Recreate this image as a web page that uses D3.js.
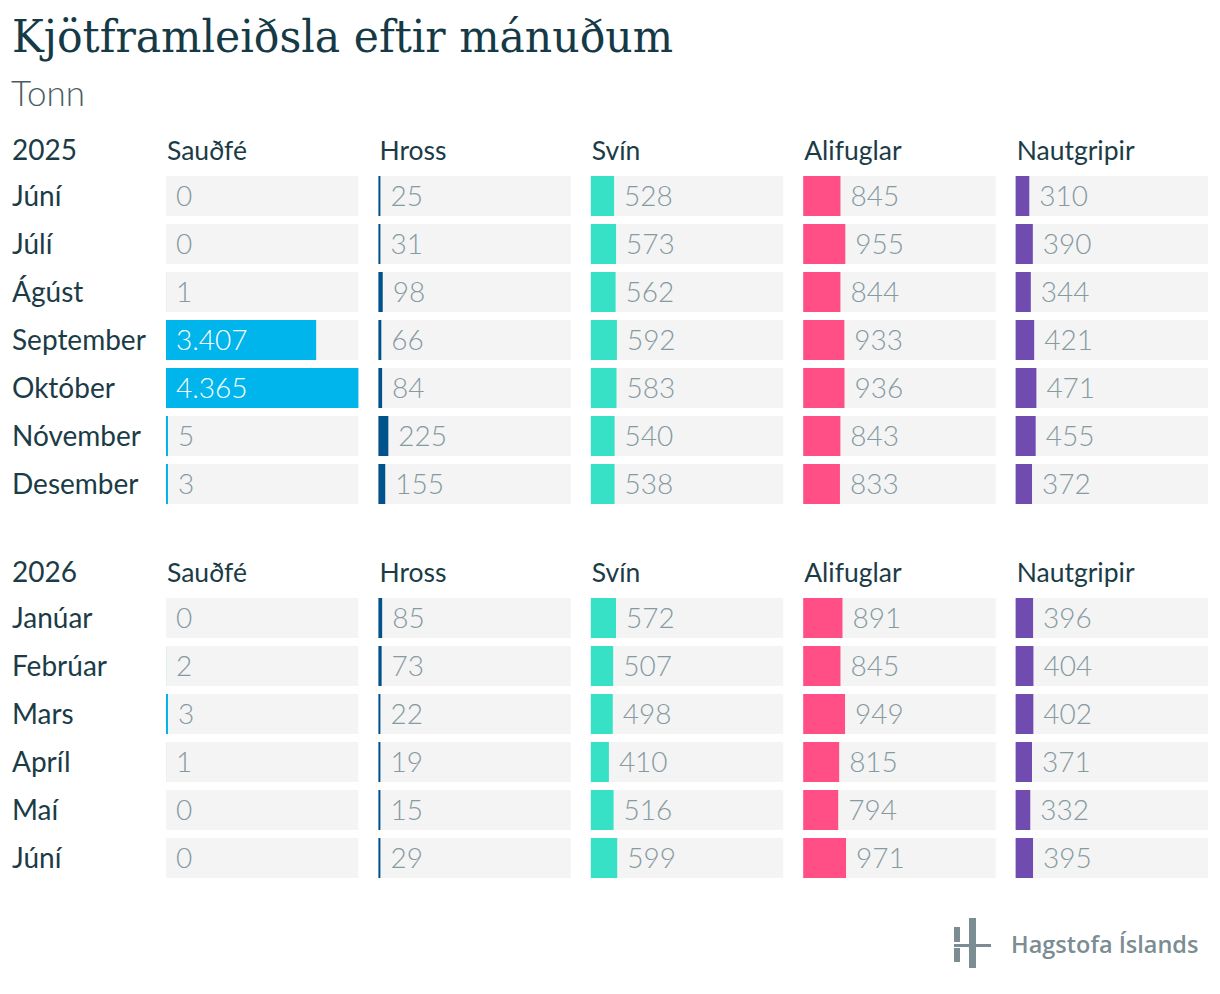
<!DOCTYPE html>
<html>
<head>
<meta charset="utf-8">
<script src="https://cdn.jsdelivr.net/npm/d3@7"></script>
<style>
  body { margin: 0; background: #fff; }
  svg text { font-family: Lato, "Noto Sans", sans-serif; }
</style>
</head>
<body>
<div id="chart"></div>
<script>
const categories = ["Sauðfé", "Hross", "Svín", "Alifuglar", "Nautgripir"];
const colors = ["#00b4ec", "#00528a", "#37e1c5", "#ff4f86", "#704bb0"];

const months2025 = ["Júní", "Júlí", "Ágúst", "September", "Október", "Nóvember", "Desember"];
const values2025 = [
  [0, 25, 528, 845, 310],
  [0, 31, 573, 955, 390],
  [1, 98, 562, 844, 344],
  [3407, 66, 592, 933, 421],
  [4365, 84, 583, 936, 471],
  [5, 225, 540, 843, 455],
  [3, 155, 538, 833, 372]
];

const months2026 = ["Janúar", "Febrúar", "Mars", "Apríl", "Maí", "Júní"];
const values2026 = [
  [0, 85, 572, 891, 396],
  [2, 73, 507, 845, 404],
  [3, 22, 498, 949, 402],
  [1, 19, 410, 815, 371],
  [0, 15, 516, 794, 332],
  [0, 29, 599, 971, 395]
];

const width = 1220, height = 994;
const rowStep = 48, rowGap = 8;
const isLocale = d3.formatLocale({ decimal: ",", thousands: ".", grouping: [3], currency: ["", " kr."] });
const fmt = isLocale.format(",d");

const svg = d3.select("#chart").append("svg")
  .attr("width", width)
  .attr("height", height);

// titles
svg.append("text")
  .attr("x", 12).attr("y", 52)
  .attr("textLength", 661).attr("lengthAdjust", "spacingAndGlyphs")
  .style("font-family", "'DejaVu Serif', serif")
  .style("font-size", "44px")
  .attr("fill", "#153a46")
  .text("Kjötframleiðsla eftir mánuðum");

svg.append("text")
  .attr("x", 11).attr("y", 106)
  .style("font-size", "35px").style("font-weight", 300)
  .attr("fill", "#4b5d64")
  .text("Tonn");

// columns
const x = d3.scaleBand()
  .domain(categories)
  .range([166, 1208])
  .paddingInner(20 / 212);

const allValues = values2025.concat(values2026).flat();
const barX = d3.scaleLinear()
  .domain([0, d3.max(allValues)])
  .range([0, x.bandwidth()]);

const color = d3.scaleOrdinal().domain(categories).range(colors);

const blocks = [
  { year: "2025", months: months2025, values: values2025, top: 176 },
  { year: "2026", months: months2026, values: values2026, top: 598 }
];

blocks.forEach(block => {
  const n = block.months.length;
  const y = d3.scaleBand()
    .domain(block.months.map((m, i) => i))
    .range([block.top, block.top + n * rowStep - rowGap])
    .paddingInner(rowGap / rowStep);

  const g = svg.append("g");

  // header row
  g.append("text")
    .attr("x", 12).attr("y", block.top - 16)
    .style("font-size", "28px")
    .attr("fill", "#1b3c47")
    .text(block.year);

  g.selectAll("text.colhead")
    .data(categories)
    .join("text")
    .attr("class", "colhead")
    .attr("x", d => x(d) + 1)
    .attr("y", block.top - 16)
    .style("font-size", "26.5px")
    .attr("fill", "#1b3c47")
    .text(d => d);

  // row labels
  g.selectAll("text.rowlabel")
    .data(block.months)
    .join("text")
    .attr("class", "rowlabel")
    .attr("x", 12)
    .attr("y", (d, i) => y(i) + y.bandwidth() / 2)
    .attr("dy", "0.35em")
    .style("font-size", "28px")
    .attr("fill", "#1b3c47")
    .text(d => d);

  const cells = [];
  block.values.forEach((row, i) => {
    row.forEach((v, j) => cells.push({ row: i, cat: categories[j], value: v }));
  });

  const cell = g.selectAll("g.cell")
    .data(cells)
    .join("g")
    .attr("class", "cell")
    .attr("transform", d => `translate(${x(d.cat)},${y(d.row)})`);

  cell.append("rect")
    .attr("width", x.bandwidth())
    .attr("height", y.bandwidth())
    .attr("fill", "#f4f4f4");

  // very small values still get a hairline bar
  const barW = v => v >= 3 ? Math.max(barX(v), 2) : barX(v);

  cell.append("rect")
    .attr("width", d => barW(d.value))
    .attr("height", y.bandwidth())
    .attr("fill", d => color(d.cat));

  cell.append("text")
    .attr("x", d => barW(d.value) > 100 ? 10 : barW(d.value) + 10)
    .attr("y", y.bandwidth() / 2)
    .attr("dy", "0.35em")
    .style("font-size", "28px")
    .style("font-weight", 300)
    .attr("fill", d => barW(d.value) > 100 ? "#ffffff" : "#869aa1")
    .text(d => fmt(d.value));
});

// logo
const logo = svg.append("g").attr("fill", "#7b8d93");
logo.append("rect").attr("x", 954).attr("y", 927).attr("width", 6).attr("height", 15);
logo.append("rect").attr("x", 954).attr("y", 948).attr("width", 6).attr("height", 14);
logo.append("rect").attr("x", 969).attr("y", 918).attr("width", 7).attr("height", 50);
logo.append("rect").attr("x", 954).attr("y", 944).attr("width", 37).attr("height", 3);
logo.append("text")
  .attr("x", 1011).attr("y", 953)
  .style("font-family", "'Open Sans', sans-serif")
  .style("font-size", "23.5px").style("font-weight", 600)
  .text("Hagstofa Íslands");
</script>
</body>
</html>
